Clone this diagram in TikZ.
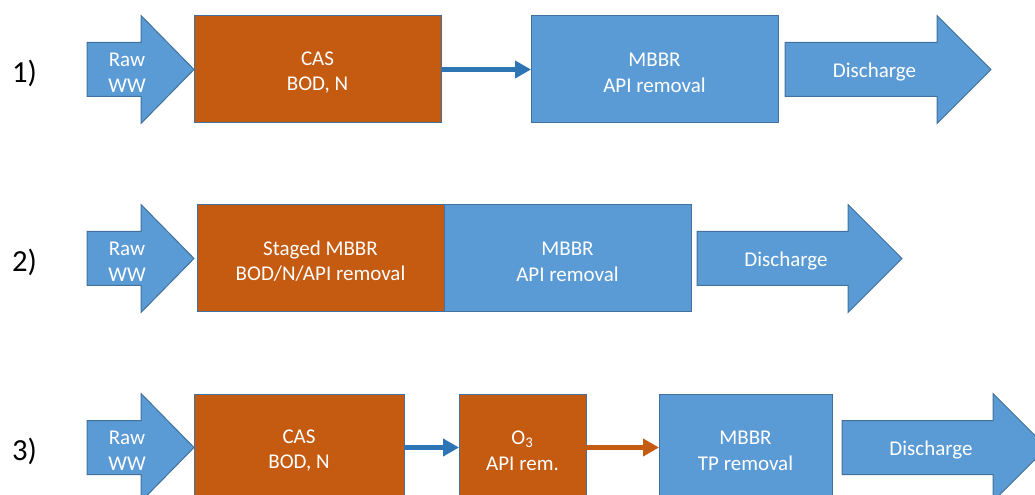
\documentclass[tikz,border=0pt]{standalone}
\usepackage{fontspec}
\setmainfont{Carlito}
\usetikzlibrary{arrows.meta}

\definecolor{boxblue}{HTML}{5B9BD5}
\definecolor{boxorange}{HTML}{C55A11}
\definecolor{edgeblue}{HTML}{41719C}
\definecolor{lineblue}{HTML}{2E75B6}

\begin{document}
\begin{tikzpicture}[x=0.75pt, y=-0.75pt,
    blockarrow/.style={fill=boxblue, draw=edgeblue, line width=0.75pt, line join=miter},
    arrowtext/.style={text=white, align=center, font=\fontsize{15.75}{19.2}\selectfont},
    unit/.style={draw=edgeblue, line width=0.75pt, outer sep=0pt, minimum height=80.25pt,
                 text=white, align=center, font=\fontsize{15.75}{19.2}\selectfont,
                 execute at begin node={\rule{0pt}{34pt}}},
    bio/.style={unit, fill=boxblue},
    chem/.style={unit, fill=boxorange},
    flow/.style={line width=3.6pt, -{Triangle[length=12pt, width=12.75pt]}},
    rowlabel/.style={font=\fontsize{23}{27}\selectfont}]

    % Cornice della figura
    \clip (0,0) rectangle (1035,495);

    % ---------------- Schema 1) ----------------
    \node[rowlabel] (lab1) at (24.5,73) {1)};
    \draw[blockarrow] (87,42.5) -- (141,42.5) -- (141,15.5) -- (194,69.5)
        -- (141,123.5) -- (141,96.5) -- (87,96.5) -- cycle;
    \node[arrowtext] (raw1) at (127,72.5) {Raw\\WW};

    \node[chem, minimum width=185.25pt] (cas1) at (317.5,69.5) {CAS\\BOD, N};
    \node[bio, minimum width=185.25pt] (mbbr1) at (654.5,69.5) {MBBR\\API removal};
    \draw[flow, lineblue] (cas1) -- (mbbr1);

    \draw[blockarrow] (785,42.5) -- (937,42.5) -- (937,15.5) -- (991,69.5)
        -- (937,123.5) -- (937,96.5) -- (785,96.5) -- cycle;
    \node[arrowtext] (dis1) at (874.5,72) {Discharge};

    % ---------------- Schema 2) ----------------
    \node[rowlabel] (lab2) at (24.5,262) {2)};
    \draw[blockarrow] (87,231.5) -- (141,231.5) -- (141,204.5) -- (194,258.5)
        -- (141,312.5) -- (141,285.5) -- (87,285.5) -- cycle;
    \node[arrowtext] (raw2) at (127,261.5) {Raw\\WW};

    % Due reattori affiancati, senza collegamento
    \node[chem, minimum width=185.25pt] (staged2) at (320.5,258.5) {Staged MBBR\\BOD/N/API removal};
    \node[bio, minimum width=185.25pt] (mbbr2) at (567.5,258.5) {MBBR\\API removal};

    \draw[blockarrow] (697,231.5) -- (848,231.5) -- (848,204.5) -- (902,258.5)
        -- (848,312.5) -- (848,285.5) -- (697,285.5) -- cycle;
    \node[arrowtext] (dis2) at (786,261) {Discharge};

    % ---------------- Schema 3) ----------------
    \node[rowlabel] (lab3) at (24.5,451) {3)};
    \draw[blockarrow] (87,420.5) -- (141,420.5) -- (141,393.5) -- (194,447.5)
        -- (141,501.5) -- (141,474.5) -- (87,474.5) -- cycle;
    \node[arrowtext] (raw3) at (127,450.5) {Raw\\WW};

    \node[chem, minimum width=157.5pt] (cas3) at (299,447.5) {CAS\\BOD, N};
    \node[chem, minimum width=95.25pt] (ozone3) at (522.5,447.5) {O\textsubscript{3}\\API rem.};
    \node[bio, minimum width=129.75pt] (mbbr3) at (745.5,447.5) {MBBR\\TP removal};
    \draw[flow, lineblue] (cas3) -- (ozone3);
    \draw[flow, boxorange] (ozone3) -- (mbbr3);

    \draw[blockarrow] (842,420.5) -- (993,420.5) -- (993,393.5) -- (1047,447.5)
        -- (993,501.5) -- (993,474.5) -- (842,474.5) -- cycle;
    \node[arrowtext] (dis3) at (931,450) {Discharge};

\end{tikzpicture}
\end{document}
